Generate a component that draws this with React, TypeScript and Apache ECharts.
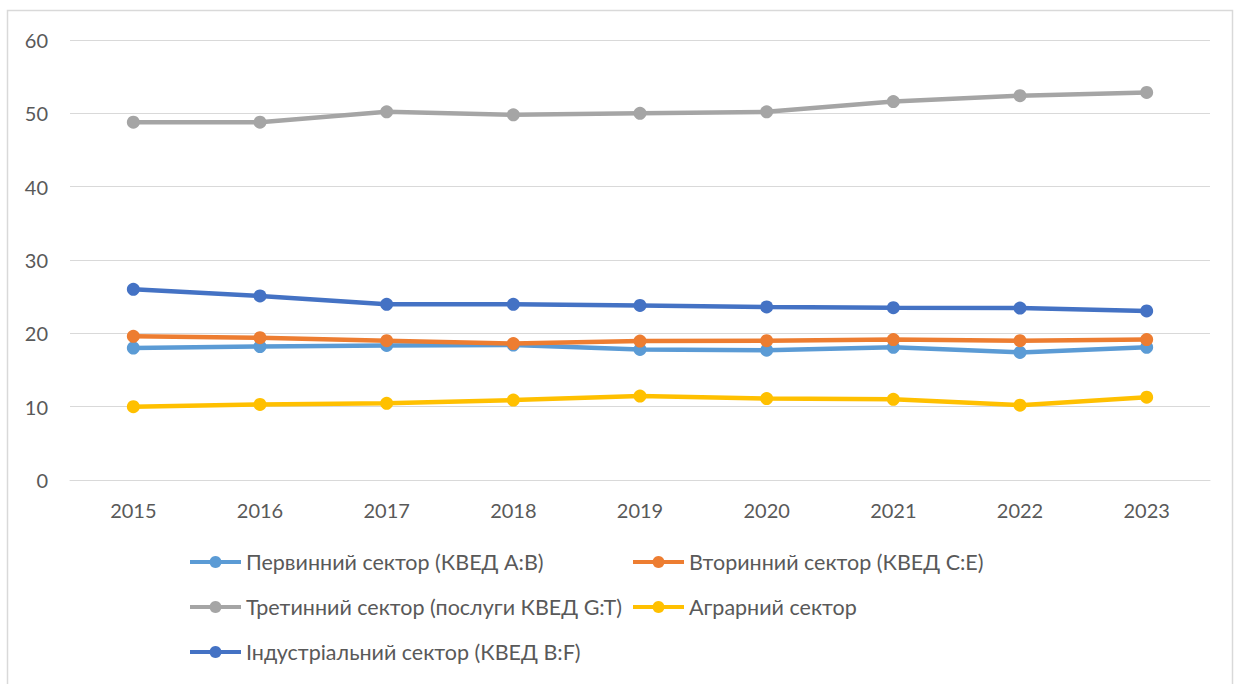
import React, { useEffect, useRef } from "react";
import * as echarts from "echarts";

const years = ["2015", "2016", "2017", "2018", "2019", "2020", "2021", "2022", "2023"];
const primary = [18.0, 18.2, 18.35, 18.4, 17.8, 17.7, 18.1, 17.4, 18.1];
const secondary = [19.6, 19.4, 19.0, 18.6, 18.95, 19.0, 19.15, 19.0, 19.15];
const tertiary = [48.8, 48.8, 50.2, 49.8, 50.0, 50.2, 51.6, 52.4, 52.85];
const agrarian = [10.0, 10.3, 10.45, 10.9, 11.45, 11.1, 11.0, 10.2, 11.3];
const industrial = [26.0, 25.1, 23.95, 23.95, 23.8, 23.6, 23.5, 23.45, 23.05];

const names = [
  "Первинний сектор (КВЕД A:B)",
  "Вторинний сектор (КВЕД C:E)",
  "Третинний сектор (послуги КВЕД G:T)",
  "Аграрний сектор",
  "Індустріальний сектор (КВЕД B:F)",
];
const colors = ["#5B9BD5", "#ED7D31", "#A5A5A5", "#FFC000", "#4472C4"];
const values = [primary, secondary, tertiary, agrarian, industrial];

const FONT = "Lato, 'Liberation Sans', sans-serif";
const TXT = "#595959";

export default function App() {
  const ref = useRef<HTMLDivElement>(null);
  useEffect(() => {
    const chart = echarts.init(ref.current!, null, { renderer: "svg" });
    const legendPos = [
      [188, 563],
      [631, 563],
      [188, 608],
      [631, 608],
      [188, 653],
    ];
    chart.setOption({
      animation: false,
      backgroundColor: "#ffffff",
      textStyle: { fontFamily: FONT },
      graphic: [
        {
          type: "rect",
          shape: { x: 7.5, y: 10.5, width: 1225, height: 700 },
          style: { fill: "none", stroke: "#D9D9D9", lineWidth: 1.5 },
          silent: true,
        },
      ],
      grid: { left: 70, right: 30, top: 40, bottom: 204, containLabel: false },
      xAxis: {
        type: "category",
        data: years,
        boundaryGap: true,
        axisLine: { lineStyle: { color: "#D9D9D9", width: 1 } },
        axisTick: { show: false },
        axisLabel: { color: TXT, fontSize: 20, fontFamily: FONT, margin: 20 },
      },
      yAxis: {
        type: "value",
        min: 0,
        max: 60,
        interval: 10,
        axisLine: { show: false },
        axisTick: { show: false },
        splitLine: { lineStyle: { color: "#D9D9D9", width: 1 } },
        axisLabel: { color: TXT, fontSize: 20, fontFamily: FONT, margin: 22 },
      },
      legend: names.map((n, i) => ({
        data: [n],
        left: legendPos[i][0],
        top: legendPos[i][1] - 12,
        padding: 0,
        itemWidth: 51,
        itemHeight: 15,
        itemGap: 0,
        lineStyle: { width: 4 },
        textStyle: { color: TXT, fontSize: 21.5, fontFamily: FONT },
      })),
      series: names.map((n, i) => ({
        name: n,
        type: "line",
        data: values[i],
        symbol: "circle",
        symbolSize: 13,
        lineStyle: { width: 4.5, color: colors[i] },
        itemStyle: { color: colors[i] },
        z: 2 + i,
      })),
    });
    return () => chart.dispose();
  }, []);
  return (
    <div
      ref={ref}
      style={{ position: "fixed", left: 0, top: 0, width: 1240, height: 684 }}
    />
  );
}
